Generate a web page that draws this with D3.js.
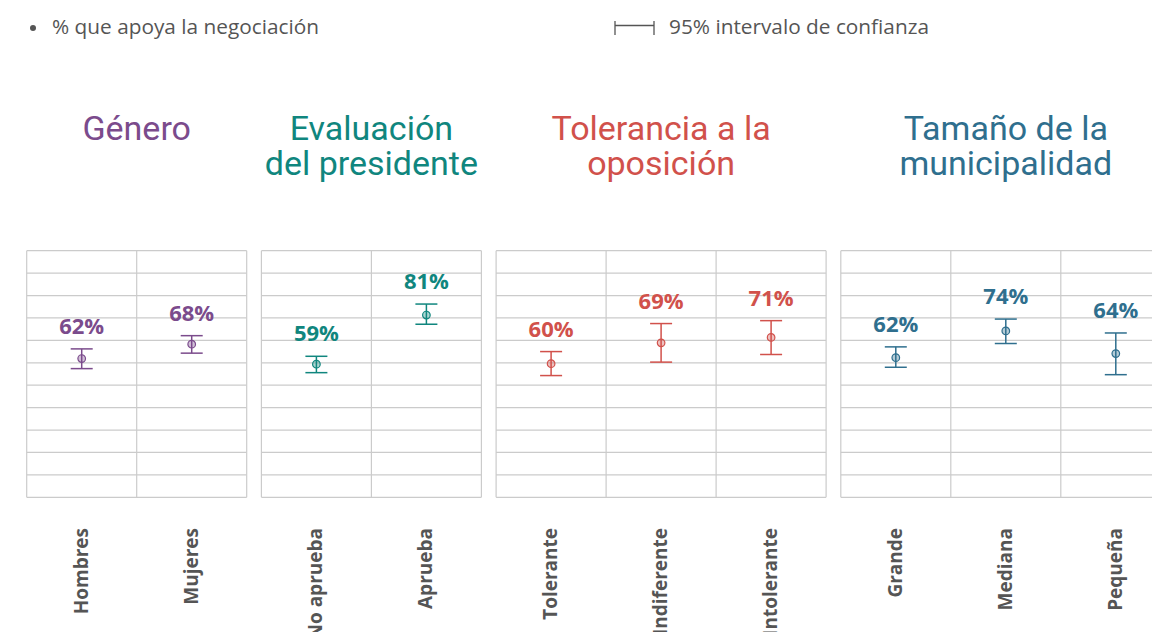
<!DOCTYPE html>
<html>
<head>
<meta charset="utf-8">
<script src="https://cdn.jsdelivr.net/npm/d3@7"></script>
<style>
  body { margin: 0; background: #fff; }
  svg { display: block; }
</style>
</head>
<body>
<div id="chart"></div>
<script>
// data
const grupos = ['Género', 'Evaluación del presidente', 'Tolerancia a la oposición', 'Tamaño de la municipalidad'];
const titulos = [['Género'], ['Evaluación', 'del presidente'], ['Tolerancia a la', 'oposición'], ['Tamaño de la', 'municipalidad']];
const colores = ['#7b4b8c', '#10867e', '#d1514b', '#2f6f8e'];
const categorias = [
    ['Hombres', 'Mujeres'],
    ['No aprueba', 'Aprueba'],
    ['Tolerante', 'Indiferente', 'Intolerante'],
    ['Grande', 'Mediana', 'Pequeña']
];
const apoyo = [
    [61.9, 68.3],
    [59.4, 81.3],
    [59.6, 68.9, 71.3],
    [62.3, 74.2, 64.1]
];
const limiteInferior = [
    [57.4, 64.3],
    [55.6, 77.2],
    [54.3, 60.3, 63.7],
    [58.0, 68.6, 54.7]
];
const limiteSuperior = [
    [66.2, 72.1],
    [62.9, 86.2],
    [65.0, 77.5, 78.8],
    [67.1, 79.5, 73.3]
];
const gridTicks = d3.range(0, 111, 10);

const width = 1152;
const height = 632;
const colWidth = 110;
const panelGap = 14.7;
const left = 26.7;

const svg = d3.select('#chart')
    .append('svg')
    .attr('width', width)
    .attr('height', height);

// legend
const legend = svg.append('g').attr('font-family', '"Open Sans", sans-serif').attr('font-size', 20.8).attr('fill', '#555');
legend.append('circle').attr('cx', 33).attr('cy', 28).attr('r', 3).attr('fill', '#555');
legend.append('text').attr('x', 52).attr('y', 34).text('% que apoya la negociación');

const ciIcon = legend.append('g').attr('stroke', '#555').attr('stroke-width', 1.3);
ciIcon.append('line').attr('x1', 615).attr('x2', 615).attr('y1', 21).attr('y2', 35);
ciIcon.append('line').attr('x1', 654).attr('x2', 654).attr('y1', 21).attr('y2', 35);
ciIcon.append('line').attr('x1', 615).attr('x2', 654).attr('y1', 25.5).attr('y2', 25.5);
legend.append('text').attr('x', 669).attr('y', 34).text('95% intervalo de confianza');

const y = d3.scaleLinear()
    .domain([0, 110])
    .range([497.3, 250.7]);

// panels
let offset = left;
grupos.forEach((grupo, i) => {
    const cats = categorias[i];
    const panelWidth = cats.length * colWidth;
    const color = colores[i];

    const x = d3.scaleBand()
        .domain(cats)
        .range([0, panelWidth])
        .padding(0);

    const g = svg.append('g')
        .attr('class', 'panel')
        .attr('transform', `translate(${offset},0)`);

    // title
    const title = g.append('text')
        .attr('x', panelWidth / 2)
        .attr('y', 140)
        .attr('text-anchor', 'middle')
        .attr('font-family', 'Roboto, sans-serif')
        .attr('font-size', 34)
        .attr('fill', color);
    titulos[i].forEach((line, j) => {
        title.append('tspan')
            .attr('x', panelWidth / 2)
            .attr('dy', j === 0 ? 0 : 35)
            .text(line);
    });

    // grid
    g.selectAll('.hline')
        .data(gridTicks)
        .enter().append('line')
        .attr('class', 'hline')
        .attr('x1', 0)
        .attr('x2', panelWidth)
        .attr('y1', d => y(d))
        .attr('y2', d => y(d))
        .attr('stroke', '#cbcbcb')
        .attr('stroke-width', 1.2);

    const edges = cats.map(c => x(c)).concat([panelWidth]);
    g.selectAll('.vline')
        .data(edges)
        .enter().append('line')
        .attr('class', 'vline')
        .attr('x1', d => d)
        .attr('x2', d => d)
        .attr('y1', y(110))
        .attr('y2', y(0))
        .attr('stroke', '#cbcbcb')
        .attr('stroke-width', 1.2);

    // data rows
    const rows = cats.map((c, j) => ({
        cat: c,
        value: apoyo[i][j],
        lo: limiteInferior[i][j],
        hi: limiteSuperior[i][j]
    }));

    const mark = g.selectAll('.mark')
        .data(rows)
        .enter().append('g')
        .attr('class', 'mark')
        .attr('transform', d => `translate(${x(d.cat) + x.bandwidth() / 2},0)`);

    mark.append('line')
        .attr('x1', 0).attr('x2', 0)
        .attr('y1', d => y(d.hi))
        .attr('y2', d => y(d.lo))
        .attr('stroke', color)
        .attr('stroke-width', 1.5);
    mark.append('line')
        .attr('x1', -11).attr('x2', 11)
        .attr('y1', d => y(d.hi))
        .attr('y2', d => y(d.hi))
        .attr('stroke', color)
        .attr('stroke-width', 1.5);
    mark.append('line')
        .attr('x1', -11).attr('x2', 11)
        .attr('y1', d => y(d.lo))
        .attr('y2', d => y(d.lo))
        .attr('stroke', color)
        .attr('stroke-width', 1.5);
    mark.append('circle')
        .attr('cx', 0)
        .attr('cy', d => y(d.value))
        .attr('r', 3.8)
        .attr('fill', color)
        .attr('fill-opacity', 0.35)
        .attr('stroke', color)
        .attr('stroke-width', 1.2);
    mark.append('text')
        .attr('x', 0)
        .attr('y', d => y(d.hi) - 15)
        .attr('text-anchor', 'middle')
        .attr('font-family', '"Open Sans", sans-serif')
        .attr('font-weight', 700)
        .attr('font-size', 22)
        .attr('fill', color)
        .text(d => Math.round(d.value) + '%');

    // category labels
    g.selectAll('.cat')
        .data(cats)
        .enter().append('text')
        .attr('class', 'cat')
        .attr('transform', d => `translate(${x(d) + x.bandwidth() / 2 + 6},528) rotate(-90)`)
        .attr('text-anchor', 'end')
        .attr('font-family', '"Open Sans", sans-serif')
        .attr('font-weight', 700)
        .attr('font-size', 19)
        .attr('fill', '#555')
        .text(d => d);

    offset += panelWidth + panelGap;
});
</script>
</body>
</html>
